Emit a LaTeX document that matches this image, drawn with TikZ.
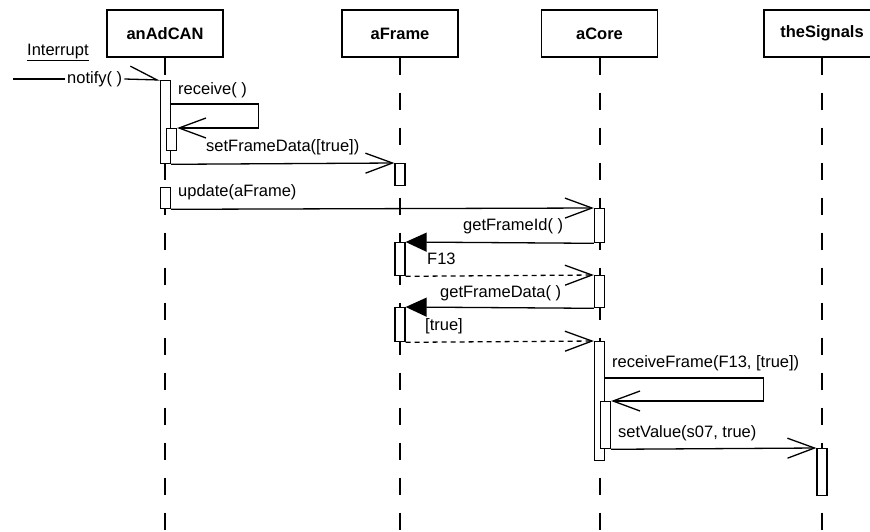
\documentclass[tikz,border=0pt]{standalone}
\usepackage{fontspec}
\setmainfont{Liberation Sans}
\usepackage{tikz}
\usetikzlibrary{arrows.meta,calc}

\begin{document}
\begin{tikzpicture}[x=1pt,y=1pt]
    \tikzstyle{every node}+=[inner sep=0pt]
    \tikzstyle{obj}=[draw,line width=1.3pt,minimum width=116pt,minimum height=47pt,font=\fontsize{16.5}{18}\selectfont\bfseries]
    \tikzstyle{act}=[draw,fill=white,line width=1.3pt,minimum width=10pt,anchor=north]
    \tikzstyle{life}=[line width=2pt,dash pattern=on 17pt off 18pt]
    \tikzstyle{msg}=[line width=1.3pt,-{Straight Barb[length=27pt,width=20pt]}]
    \tikzstyle{call}=[line width=1.3pt,-{Triangle[length=21pt,width=19pt]}]
    \tikzstyle{ret}=[msg,dash pattern=on 5pt off 4pt]
    \tikzstyle{lbl}=[anchor=base west,font=\fontsize{16.5}{18}\selectfont]
    \useasboundingbox (0,0) rectangle (870,-531);
    % objects and lifelines
    \node[obj] (anAdCAN) at (165,-33.5) {anAdCAN};
    \node[obj] (aFrame) at (400,-33.5) {aFrame};
    \node[obj] (aCore) at (599.5,-33.5) {aCore};
    \node[obj] (theSignals) at (822,-33.5) {theSignals};
    \foreach \o in {anAdCAN,aFrame,aCore,theSignals}
        \draw[life] (\o.south) -- (\o.south |- 0,-531);
    % activations
    \node[act,minimum height=83pt] (a1) at (165.5,-80) {};
    \node[act,minimum height=22pt] (a1n) at (171.5,-128) {};
    \node[act,minimum height=21pt] (a2) at (165.5,-187) {};
    \node[act,minimum height=22pt] (f1) at (400,-163) {};
    \node[act,minimum height=33pt] (f2) at (400,-242) {};
    \node[act,minimum height=34pt] (f3) at (400,-307) {};
    \node[act,minimum height=34pt] (c1) at (599.5,-208) {};
    \node[act,minimum height=32pt] (c2) at (599.5,-275) {};
    \node[act,minimum height=119pt] (c3) at (599.5,-341) {};
    \node[act,minimum height=47pt] (c3n) at (605.5,-401) {};
    \node[act,minimum height=47pt] (s1) at (822,-448) {};
    % incoming interrupt
    \node[lbl] (intr) at (27,-55) {\underline{Interrupt}};
    \coordinate (src) at (13,-79);
    \node[anchor=west,inner xsep=2pt,font=\fontsize{16.5}{18}\selectfont] (notify) at (65,-79) {notify( )};
    \draw[line width=1.3pt] (src) -- (notify.west);
    \draw[line width=1.3pt,-{Straight Barb[harpoon,length=27pt,width=26pt]}] (notify.east) -- (a1.north west);
    % messages
    \draw[msg] ($(a1.north east)+(0,-24)$) -- ++(87,0) |- (a1n.north east);
    \node[lbl] (l1) at (178,-94) {receive( )};
    \draw[msg] (a1.south east) -- (f1.north west);
    \node[lbl] (l2) at (206,-151) {setFrameData([true])};
    \draw[msg] (a2.south east) -- (c1.north west);
    \node[lbl] (l3) at (178,-196) {update(aFrame)};
    \draw[call] (c1.south west) -- (f2.north east);
    \node[lbl] (l4) at (463,-230) {getFrameId( )};
    \draw[ret] (f2.south east) -- (c2.north west);
    \node[lbl] (l5) at (427,-264) {F13};
    \draw[call] (c2.south west) -- (f3.north east);
    \node[lbl] (l6) at (440,-297) {getFrameData( )};
    \draw[ret] (f3.south east) -- (c3.north west);
    \node[lbl] (l7) at (425,-330) {[true]};
    \draw[msg] ($(c3.north east)+(0,-37)$) -- ++(158,0) |- (c3n.north east);
    \node[lbl] (l8) at (612,-367) {receiveFrame(F13, [true])};
    \draw[msg] (c3n.south east) -- (s1.north west);
    \node[lbl] (l9) at (618,-437) {setValue(s07, true)};
\end{tikzpicture}
\end{document}
